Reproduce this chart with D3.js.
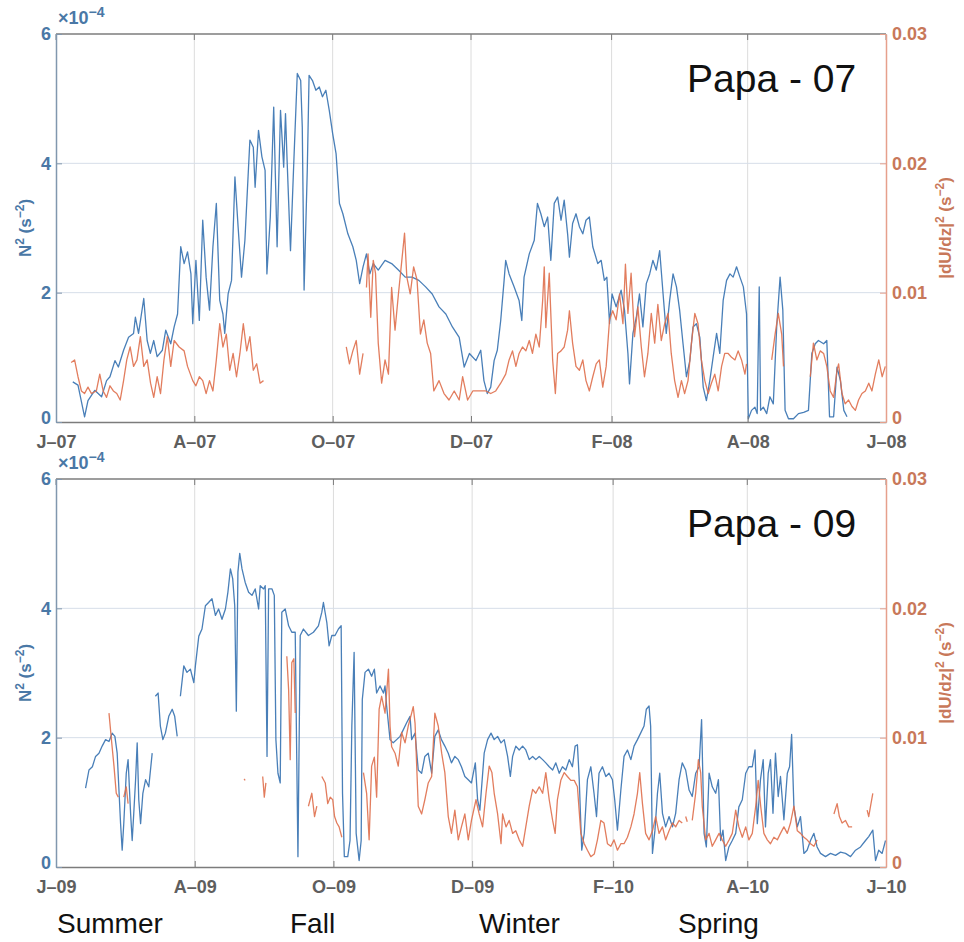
<!DOCTYPE html>
<html>
<head>
<meta charset="utf-8">
<script src="https://cdn.jsdelivr.net/npm/d3@7"></script>
<style>
  body { margin: 0; background: #fff; }
  svg { display: block; }
</style>
</head>
<body>
<svg width="964" height="942"></svg>
<script>
// days since 1 June, N2 in units of 1e-4 s^-2; null = gap
const n2_07 = [[7.4,0.62],[9.7,0.57],[12.6,0.08],[14.1,0.33],[17.1,0.49],[20.1,0.39],[22.3,0.64],[23.8,0.70],[26.0,0.95],[27.5,0.85],[29.8,1.11],[32.0,1.31],[34.2,1.37],[35.0,1.62],[36.4,1.37],[38.7,1.91],[40.2,1.26],[41.6,1.06],[43.1,1.26],[44.6,1.01],[46.9,1.11],[48.4,1.42],[50.6,1.21],[52.1,1.47],[53.6,1.67],[55.0,2.71],[56.5,2.45],[58.0,2.63],[59.5,2.29],[60.3,1.52],[61.7,2.50],[63.2,1.57],[64.7,3.12],[66.2,2.24],[67.7,1.73],[69.2,2.71],[70.7,3.38],[72.2,1.88],[73.6,1.67],[74.4,1.37],[75.9,1.98],[77.4,2.19],[78.9,3.79],[80.3,3.02],[81.8,2.24],[83.3,2.81],[85.5,4.36],[87.0,4.25],[87.8,3.63],[89.3,4.51],[90.8,4.10],[92.2,3.89],[93.0,2.29],[94.5,3.17],[96.0,4.87],[97.5,2.71],[99.0,4.82],[100.4,3.94],[101.2,4.77],[101.9,4.05],[103.4,2.65],[104.9,4.05],[106.4,5.39],[107.9,5.28],[108.6,4.56],[109.4,2.04],[110.8,3.89],[111.6,5.36],[113.1,5.28],[114.6,5.13],[116.1,5.18],[117.5,5.03],[119.0,5.13],[120.5,4.82],[122.0,4.46],[123.5,4.15],[125.0,3.38],[126.5,3.22],[128.7,2.91],[130.9,2.71],[132.4,2.50],[133.9,2.14],[135.4,2.40],[136.9,2.60],[138.4,2.29],[139.9,2.45],[142.1,2.35],[145.1,2.50],[148.0,2.45],[151.0,2.35],[154.0,2.24],[157.0,2.24],[160.0,2.19],[163.0,2.09],[165.9,1.98],[168.9,1.78],[171.9,1.67],[174.8,1.47],[177.8,1.31],[180.0,0.85],[182.3,1.06],[185.2,0.95],[187.3,1.11],[188.7,0.64],[190.2,0.44],[191.7,0.54],[193.2,0.95],[194.6,1.11],[196.1,1.57],[197.6,2.19],[198.3,2.50],[199.8,2.29],[202.0,2.09],[204.2,1.88],[205.4,1.57],[206.4,2.24],[208.7,2.60],[210.9,2.81],[212.3,3.38],[213.8,3.22],[215.3,3.02],[216.8,3.17],[218.2,2.50],[219.7,3.38],[221.2,3.48],[222.7,3.12],[224.1,3.43],[225.6,2.91],[226.4,2.55],[227.8,3.07],[229.3,3.22],[230.8,3.02],[232.3,2.91],[233.7,3.12],[235.2,3.17],[236.7,2.71],[238.9,2.45],[240.4,2.50],[241.8,2.19],[242.9,2.24],[244.1,1.52],[245.2,1.98],[247.0,1.78],[249.2,2.04],[250.7,1.73],[252.2,1.06],[252.9,0.59],[254.4,1.37],[255.9,1.62],[257.3,1.98],[258.8,1.47],[260.3,2.14],[261.8,2.29],[263.2,2.50],[264.7,2.35],[266.2,2.65],[267.7,1.98],[269.1,1.37],[270.6,1.88],[272.1,2.29],[273.6,2.09],[275.0,1.73],[276.5,1.21],[278.0,0.70],[279.5,0.95],[280.9,1.47],[282.4,1.52],[283.9,1.31],[285.4,0.54],[286.8,0.33],[288.3,0.64],[289.8,1.01],[291.3,1.37],[292.7,1.06],[294.2,1.88],[295.7,2.19],[297.2,2.29],[298.6,2.24],[300.1,2.40],[301.6,2.24],[303.1,2.09],[304.5,1.67],[305.3,0.05],[306.7,0.18],[308.2,0.23],[309.2,0.13],[310.1,2.09],[310.7,0.18],[311.9,0.23],[313.4,0.13],[314.8,0.39],[316.3,0.28],[317.8,1.47],[319.3,2.24],[320.5,1.73],[321.5,0.18],[323.0,0.05],[325.2,0.05],[327.4,0.13],[329.7,0.15],[331.8,0.18],[333.3,1.06],[334.8,1.21],[336.2,1.26],[338.5,1.21],[339.9,1.26],[341.1,0.08],[342.9,0.08],[344.4,0.85],[345.9,0.64],[347.4,0.18],[348.8,0.08]];

// |dU/dz|^2 in s^-2
const shear_07 = [[6.7,0.0046],[8.2,0.0048],[9.7,0.0035],[11.2,0.0024],[12.6,0.0022],[14.1,0.0027],[15.6,0.0022],[17.8,0.0024],[19.3,0.0037],[20.8,0.0024],[22.3,0.0019],[23.8,0.0028],[25.3,0.0024],[26.8,0.0022],[28.3,0.0017],[29.8,0.0032],[31.2,0.0048],[32.7,0.0058],[34.2,0.0043],[35.7,0.0048],[37.2,0.0066],[38.7,0.0043],[40.2,0.0048],[41.7,0.0030],[43.1,0.0019],[44.6,0.0035],[46.1,0.0022],[47.6,0.0048],[49.1,0.0066],[50.6,0.0043],[52.1,0.0063],[54.3,0.0058],[56.5,0.0055],[58.0,0.0043],[60.3,0.0032],[61.7,0.0028],[63.2,0.0035],[64.7,0.0032],[66.2,0.0022],[67.7,0.0032],[69.2,0.0024],[70.7,0.0048],[72.2,0.0076],[73.6,0.0058],[75.1,0.0068],[76.6,0.0040],[78.1,0.0053],[79.6,0.0035],[81.1,0.0053],[82.6,0.0076],[84.1,0.0055],[85.5,0.0066],[87.0,0.0040],[88.5,0.0045],[90.0,0.0030],[91.5,0.0032],[92,null],[128.0,0.0058],[129.4,0.0045],[130.9,0.0055],[132.4,0.0063],[133.9,0.0037],[135.4,0.0053],[136,null],[136.9,0.0104],[137.6,0.0130],[138.8,0.0081],[139.9,0.0125],[140.9,0.0115],[142.1,0.0061],[143.6,0.0030],[145.1,0.0048],[146.6,0.0037],[148.0,0.0104],[149.5,0.0071],[151.0,0.0099],[152.5,0.0125],[153.7,0.0146],[154.7,0.0112],[156.2,0.0099],[157.7,0.0120],[159.2,0.0110],[160.7,0.0068],[162.2,0.0079],[163.7,0.0061],[165.2,0.0053],[166.6,0.0024],[168.9,0.0032],[171.1,0.0022],[173.3,0.0017],[175.6,0.0024],[177.8,0.0017],[179.3,0.0035],[181.5,0.0017],[183.8,0.0024],[187.3,0.0024],[189.5,0.0024],[191.7,0.0022],[193.9,0.0024],[196.1,0.0030],[198.3,0.0037],[199.8,0.0048],[201.3,0.0055],[202.8,0.0043],[204.2,0.0053],[205.7,0.0058],[207.2,0.0055],[208.7,0.0063],[210.1,0.0053],[211.6,0.0068],[213.1,0.0058],[214.6,0.0094],[215.3,0.0120],[216.0,0.0073],[217.5,0.0115],[219.0,0.0048],[220.2,0.0022],[221.2,0.0053],[222.7,0.0055],[224.1,0.0058],[225.6,0.0071],[226.4,0.0086],[227.8,0.0061],[229.3,0.0043],[230.8,0.0040],[232.3,0.0048],[233.7,0.0032],[235.2,0.0024],[236.7,0.0035],[238.2,0.0045],[239.6,0.0048],[241.1,0.0027],[242.6,0.0043],[244.1,0.0079],[245.5,0.0086],[247.0,0.0079],[248.5,0.0099],[250.0,0.0076],[251.1,0.0122],[252.2,0.0084],[253.6,0.0115],[255.1,0.0066],[256.6,0.0089],[258.1,0.0058],[259.5,0.0035],[261.0,0.0053],[262.5,0.0084],[264.0,0.0061],[265.4,0.0091],[266.9,0.0063],[268.4,0.0076],[269.9,0.0084],[271.3,0.0053],[272.8,0.0032],[274.3,0.0019],[275.8,0.0032],[277.2,0.0022],[278.7,0.0032],[280.2,0.0061],[281.7,0.0084],[283.1,0.0076],[284.6,0.0048],[286.1,0.0032],[287.6,0.0022],[289.0,0.0030],[290.5,0.0037],[292.0,0.0024],[293.5,0.0043],[294.9,0.0053],[296.4,0.0053],[297.9,0.0050],[299.4,0.0048],[300.8,0.0055],[302.3,0.0048],[303.8,0.0037],[304.5,0.0045],[305,null],[315.6,0.0048],[317.1,0.0068],[318.5,0.0084],[320.0,0.0068],[320.8,0.0043],[321,null],[332.6,0.0035],[334.0,0.0061],[335.5,0.0048],[337.0,0.0055],[338.5,0.0053],[339.9,0.0043],[341.4,0.0024],[342.9,0.0019],[344.4,0.0040],[345.1,0.0045],[346.6,0.0022],[348.0,0.0014],[349.5,0.0017],[351.0,0.0012],[352.5,0.0009],[353.9,0.0017],[355.4,0.0022],[356.9,0.0024],[358.4,0.0030],[359.8,0.0024],[361.3,0.0037],[362.8,0.0048],[364.3,0.0035],[365.7,0.0043]];

const n2_09 = [[13.0,1.22],[14.5,1.50],[16.0,1.55],[17.4,1.71],[18.9,1.76],[20.3,1.87],[21.8,1.97],[23.3,1.94],[24.7,2.07],[25.9,2.02],[26.9,1.76],[28.4,0.67],[29.1,0.26],[29.8,0.67],[30.9,1.45],[31.7,1.66],[32.8,0.83],[33.5,0.41],[34.2,0.83],[35.0,1.35],[35.7,1.92],[36.4,1.04],[37.2,0.67],[38.2,1.14],[39.4,1.35],[40.8,1.24],[42.3,1.76],[43,null],[43.7,2.64],[44.9,2.69],[45.9,2.18],[47.0,1.97],[48.1,2.07],[49.6,2.33],[51.1,2.44],[52.2,2.33],[53.3,2.02],[54,null],[54.7,2.64],[56.2,3.11],[57.6,3.01],[59.1,3.06],[60.6,2.85],[61.3,3.11],[62.8,3.57],[64.2,3.68],[65.7,4.04],[67.1,4.09],[68.6,4.15],[70.1,3.89],[71.5,3.99],[73.0,3.83],[74.5,3.99],[75.6,4.25],[76.7,4.61],[77.7,4.46],[78.6,4.04],[79.3,2.41],[80.0,4.56],[80.8,4.85],[81.8,4.61],[83.2,4.40],[84.7,4.25],[86.2,4.20],[87.6,4.30],[89.1,3.99],[89.8,4.35],[91.3,4.30],[92.0,4.35],[92.8,1.71],[93.5,4.30],[95.0,4.30],[96.0,4.20],[96.7,1.97],[97.6,1.45],[98.6,1.30],[99.3,3.94],[100.8,3.99],[102.3,3.73],[103.7,3.63],[105.2,3.63],[106.4,0.16],[107.4,3.58],[108.8,3.68],[111.0,3.58],[113.2,3.63],[115.4,3.73],[116.9,3.94],[117.6,4.09],[119.1,3.78],[120.1,3.42],[121.3,3.58],[122.7,3.58],[124.2,3.68],[125.4,3.73],[126.0,1.14],[126.8,0.16],[128.3,0.16],[129.3,0.41],[130.1,2.18],[131.1,3.32],[132.0,0.52],[133.3,0.10],[134.2,0.41],[134.7,2.59],[135.9,3.01],[137.4,3.06],[138.8,2.95],[140.0,3.06],[141.0,2.69],[142.5,2.80],[144.0,2.69],[144.7,2.80],[145.4,2.49],[146.9,1.97],[148.3,1.92],[149.8,1.97],[151.3,2.02],[152.7,2.12],[154.2,2.23],[155.7,2.33],[156.4,1.97],[157.9,2.07],[159.3,1.50],[160.8,1.45],[162.2,1.71],[163.7,1.76],[165.2,1.45],[166.6,2.02],[168.1,2.12],[169.5,1.97],[171.0,1.87],[172.5,1.76],[173.9,1.61],[175.4,1.71],[176.9,1.66],[178.3,1.55],[179.8,1.40],[181.3,1.35],[182.7,1.30],[184.4,1.61],[185.4,1.04],[186.4,0.88],[188.3,1.76],[189.8,1.97],[191.3,2.07],[192.7,1.97],[194.2,2.02],[195.7,1.92],[197.1,1.97],[198.6,1.71],[199.8,1.40],[200.8,1.71],[202.2,1.87],[203.7,1.81],[205.2,1.87],[206.6,1.81],[208.1,1.66],[209.6,1.71],[211.0,1.66],[212.5,1.71],[214.0,1.66],[215.4,1.61],[216.9,1.55],[218.4,1.50],[219.8,1.61],[221.3,1.45],[222.7,1.55],[224.2,1.50],[225.7,1.66],[227.1,1.55],[228.3,1.87],[229.3,1.89],[230.1,1.35],[231.2,0.26],[232.3,0.52],[233.7,1.35],[235.2,1.55],[236.6,1.14],[237.7,0.78],[238.8,1.45],[240.3,1.55],[241.8,1.40],[243.2,1.45],[244.7,1.35],[245.7,1.04],[246.9,0.57],[248.4,1.19],[249.8,1.71],[251.3,1.81],[252.8,1.66],[254.2,1.87],[255.7,1.97],[257.1,2.07],[258.6,2.18],[259.6,2.44],[260.8,2.49],[261.5,2.18],[262.3,0.21],[263.4,0.57],[264.5,1.14],[265.5,1.45],[266.7,0.83],[268.1,0.62],[269.6,0.78],[271.1,0.62],[272.5,0.83],[274.0,1.35],[275.4,1.61],[276.9,1.50],[278.4,1.19],[279.8,1.09],[281.3,1.45],[282.8,1.55],[283.9,2.28],[285.0,0.52],[286.0,0.31],[287.2,1.45],[288.6,1.24],[290.1,1.14],[291.3,1.35],[292.3,0.41],[293.3,0.57],[294.5,0.10],[295.9,0.31],[297.4,0.41],[298.9,0.52],[300.3,0.93],[301.8,1.04],[303.3,1.45],[304.7,1.55],[306.2,1.55],[307.4,1.81],[308.4,0.67],[309.8,1.35],[311.0,1.66],[312.0,0.62],[313.2,1.45],[314.2,1.66],[315.3,0.83],[316.4,1.76],[317.6,1.09],[318.6,1.40],[320.1,0.73],[321.6,1.45],[322.6,1.55],[323.5,2.05],[324.5,0.93],[326.0,0.62],[327.4,0.78],[328.9,0.21],[330.3,0.26],[331.8,0.41],[333.3,0.52],[334.7,0.31],[336.2,0.21],[338.4,0.16],[340.6,0.21],[342.8,0.18],[345.0,0.23],[347.2,0.21],[349.4,0.16],[351.6,0.26],[353.8,0.31],[356.0,0.41],[357.4,0.47],[359.2,0.57],[360.4,0.10],[361.8,0.26],[363.3,0.21],[364.8,0.41]];

const shear_09 = [[23.3,0.0119],[24.4,0.0098],[25.5,0.0078],[26.5,0.0057],[27.4,0.0054],[28,null],[29.8,0.0054],[30.9,0.0062],[31.7,0.0049],[32,null],[82.7,0.0068],[83.2,0.0067],[84,null],[90.9,0.0070],[91.6,0.0054],[92.3,0.0065],[93,null],[101.5,0.0163],[102.3,0.0137],[103.0,0.0083],[103.7,0.0158],[104.6,0.0161],[105.2,0.0119],[106,null],[111.0,0.0047],[112.5,0.0057],[113.7,0.0039],[114.7,0.0047],[115,null],[116.9,0.0070],[118.4,0.0065],[119.5,0.0049],[120.6,0.0054],[121.7,0.0052],[122.5,0.0039],[123.5,0.0034],[124.5,0.0031],[125.7,0.0023],[126,null],[135.2,0.0073],[136.6,0.0057],[137.7,0.0021],[138.8,0.0078],[140.0,0.0085],[141.0,0.0054],[142.1,0.0122],[143.2,0.0132],[144.7,0.0119],[146.2,0.0153],[146.9,0.0109],[147.6,0.0093],[149.1,0.0088],[150.5,0.0078],[152.0,0.0104],[153.5,0.0096],[154.9,0.0109],[156.4,0.0119],[157.1,0.0124],[157.9,0.0111],[159.3,0.0047],[160.8,0.0041],[162.2,0.0052],[163.7,0.0065],[165.2,0.0070],[166.6,0.0119],[168.1,0.0109],[169.6,0.0088],[171.0,0.0073],[172.5,0.0039],[173.9,0.0026],[175.4,0.0044],[176.9,0.0021],[178.3,0.0031],[179.8,0.0041],[181.3,0.0021],[182.7,0.0036],[184.7,0.0052],[186.1,0.0041],[187.6,0.0031],[189.1,0.0057],[190.5,0.0078],[191.7,0.0073],[192.7,0.0057],[194.2,0.0041],[195.7,0.0018],[196.4,0.0041],[197.9,0.0031],[199.3,0.0036],[200.8,0.0026],[202.2,0.0028],[203.7,0.0021],[205.2,0.0016],[206.6,0.0031],[208.1,0.0047],[209.6,0.0060],[211.0,0.0057],[212.5,0.0062],[214.0,0.0057],[215.4,0.0073],[216.9,0.0052],[218.4,0.0036],[219.5,0.0026],[220.5,0.0052],[222.0,0.0067],[223.5,0.0073],[224.9,0.0070],[226.4,0.0067],[227.9,0.0067],[229.3,0.0062],[230.8,0.0026],[232.3,0.0018],[233.7,0.0013],[235.2,0.0008],[236.7,0.0010],[238.1,0.0021],[239.6,0.0036],[241.0,0.0034],[242.5,0.0018],[244.0,0.0016],[245.4,0.0021],[246.9,0.0013],[248.4,0.0018],[249.8,0.0018],[251.3,0.0023],[252.8,0.0031],[254.2,0.0041],[255.7,0.0057],[256.7,0.0073],[257.9,0.0049],[259.3,0.0026],[260.8,0.0021],[262.3,0.0028],[263.7,0.0039],[265.2,0.0026],[266.7,0.0031],[268.1,0.0021],[269.6,0.0028],[271.1,0.0034],[272.5,0.0031],[274.0,0.0036],[275.4,0.0034],[276,null],[276.9,0.0039],[277.6,0.0035],[278,null],[279.8,0.0036],[281.3,0.0057],[282.5,0.0083],[283.5,0.0073],[284.2,0.0047],[285.7,0.0021],[287.2,0.0026],[288.6,0.0016],[290.1,0.0021],[291.6,0.0026],[293.0,0.0021],[294.5,0.0016],[296.0,0.0021],[297.4,0.0026],[298.9,0.0044],[300.3,0.0031],[301.8,0.0023],[303.3,0.0031],[304.7,0.0021],[306.2,0.0026],[307.7,0.0047],[308.8,0.0067],[309.9,0.0047],[311.3,0.0026],[312.8,0.0021],[314.2,0.0018],[315.7,0.0023],[317.2,0.0021],[318.6,0.0026],[320.1,0.0031],[321.6,0.0026],[323.0,0.0034],[324.5,0.0047],[326.0,0.0028],[327.4,0.0026],[328.9,0.0023],[330.3,0.0021],[331.8,0.0018],[333.3,0.0016],[334.7,0.0021],[335,null],[342.1,0.0041],[343.5,0.0049],[344.5,0.0039],[345.7,0.0034],[347.2,0.0036],[348.6,0.0031],[350.1,0.0031],[351,null],[356.7,0.0044],[357.4,0.0039],[358.2,0.0047],[359.2,0.0057]];

const n2Ticks = [0, 2, 4, 6];
const shearTicks = [0, 0.01, 0.02, 0.03];
const titles = ["Papa - 07", "Papa - 09"];
const startYears = [2007, 2009];
const seasons = ["Summer", "Fall", "Winter", "Spring"];
const seasonX = [57, 290, 479, 678];

const svg = d3.select("svg");
const blue = "#3f78b4", red = "#df6f4d";
const blueText = "#4a78a6", redText = "#c8785a";
const fontFam = "'Liberation Sans', Arial, sans-serif";

const panels = [
  { n2: n2_07, shear: shear_07, year: startYears[0], title: titles[0], top: 34, bottom: 422, titleY: 92 },
  { n2: n2_09, shear: shear_09, year: startYears[1], title: titles[1], top: 479, bottom: 867, titleY: 537 }
];
const left = 56, right = 886;
const monthLetter = "JFMAMJJASOND";

panels.forEach(p => {
  const start = new Date(Date.UTC(p.year, 5, 1));
  const end = new Date(Date.UTC(p.year + 1, 5, 1));
  const toDate = d => new Date(+start + d * 86400000);

  const x = d3.scaleUtc().domain([start, end]).range([left, right]);
  const yL = d3.scaleLinear().domain([0, 6]).range([p.bottom, p.top]);
  const yR = d3.scaleLinear().domain([0, 0.03]).range([p.bottom, p.top]);
  // every second month starting at June
  const xTicks = d3.utcMonth.range(start, new Date(+end + 1), 2);

  const g = svg.append("g");

  // grid
  g.append("g").selectAll("line").data(xTicks.slice(1, -1)).join("line")
    .attr("x1", d => x(d)).attr("x2", d => x(d))
    .attr("y1", p.top).attr("y2", p.bottom)
    .attr("stroke", "#dcdcdc").attr("stroke-width", 1);
  g.append("g").selectAll("line").data(n2Ticks.slice(1, -1)).join("line")
    .attr("x1", left).attr("x2", right)
    .attr("y1", d => yL(d)).attr("y2", d => yL(d))
    .attr("stroke", "#d6dee9").attr("stroke-width", 1);

  // series
  const lineN2 = d3.line().defined(d => d[1] != null)
    .x(d => x(toDate(d[0]))).y(d => yL(d[1]));
  const lineSh = d3.line().defined(d => d[1] != null)
    .x(d => x(toDate(d[0]))).y(d => yR(d[1]));

  g.append("path").datum(p.n2).attr("d", lineN2)
    .attr("fill", "none").attr("stroke", blue).attr("stroke-width", 1.3)
    .attr("stroke-linejoin", "round").attr("opacity", 0.95);
  g.append("path").datum(p.shear).attr("d", lineSh)
    .attr("fill", "none").attr("stroke", red).attr("stroke-width", 1.3)
    .attr("stroke-linejoin", "round").attr("opacity", 0.9);

  // box
  g.append("line").attr("x1", left).attr("x2", right).attr("y1", p.top).attr("y2", p.top)
    .attr("stroke", "#7c7c7c").attr("stroke-width", 1.5);

  // bottom axis
  const xAxis = d3.axisBottom(x).tickValues(xTicks).tickSizeInner(-6).tickSizeOuter(0)
    .tickPadding(13)
    .tickFormat(d => monthLetter[d.getUTCMonth()] + "\u2013" + String(d.getUTCFullYear()).slice(2));
  const ax = g.append("g").attr("transform", `translate(0,${p.bottom})`).call(xAxis);
  ax.select(".domain").attr("stroke", "#7c7c7c").attr("stroke-width", 1.5);
  ax.selectAll(".tick line").attr("stroke", "#7c7c7c");
  ax.selectAll("text").attr("fill", "#5e5e5e").style("font-family", fontFam)
    .style("font-size", "18px").style("font-weight", "bold");
  // top ticks
  g.append("g").selectAll("line").data(xTicks).join("line")
    .attr("x1", d => x(d)).attr("x2", d => x(d))
    .attr("y1", p.top).attr("y2", p.top + 6).attr("stroke", "#7c7c7c");

  // left axis
  const la = g.append("g").attr("transform", `translate(${left},0)`)
    .call(d3.axisLeft(yL).tickValues(n2Ticks).tickSizeInner(-6).tickSizeOuter(0).tickPadding(5).tickFormat(d3.format("d")));
  la.select(".domain").attr("stroke", "#8197ae").attr("stroke-width", 1.5);
  la.selectAll(".tick line").attr("stroke", "#8197ae");
  la.selectAll("text").attr("fill", blueText).style("font-family", fontFam)
    .style("font-size", "18px").style("font-weight", "bold");
  la.selectAll(".tick").filter(d => d === 0).select("text").attr("dy", "0.1em");

  // right axis
  const ra = g.append("g").attr("transform", `translate(${right},0)`)
    .call(d3.axisRight(yR).tickValues(shearTicks).tickSizeInner(-6).tickSizeOuter(0).tickPadding(6)
      .tickFormat(d => d === 0 ? "0" : d3.format(".2f")(d)));
  ra.select(".domain").attr("stroke", "#e6a08c").attr("stroke-width", 1.5);
  ra.selectAll(".tick line").attr("stroke", "#e6a08c");
  ra.selectAll("text").attr("fill", redText).style("font-family", fontFam)
    .style("font-size", "18px").style("font-weight", "bold");
  ra.selectAll(".tick").filter(d => d === 0).select("text").attr("dy", "0.1em");

  // exponent
  const ex = g.append("text").attr("x", left + 2).attr("y", p.top - 10)
    .attr("fill", blueText).style("font-family", fontFam).style("font-size", "18px").style("font-weight", "bold");
  ex.append("tspan").text("\u00d710");
  ex.append("tspan").attr("dy", -7).style("font-size", "14px").text("\u22124");

  // axis labels
  const mid = (p.top + p.bottom) / 2;
  const lab = g.append("text").attr("transform", `translate(31,${mid}) rotate(-90)`)
    .attr("text-anchor", "middle").attr("fill", blueText)
    .style("font-family", fontFam).style("font-size", "17px").style("font-weight", "bold");
  lab.append("tspan").text("N");
  lab.append("tspan").attr("dy", -7).style("font-size", "12px").text("2");
  lab.append("tspan").attr("dy", 7).text(" (s");
  lab.append("tspan").attr("dy", -7).style("font-size", "12px").text("\u22122");
  lab.append("tspan").attr("dy", 7).text(")");

  const rab = g.append("text").attr("transform", `translate(951,${mid}) rotate(-90)`)
    .attr("text-anchor", "middle").attr("fill", redText)
    .style("font-family", fontFam).style("font-size", "17px").style("font-weight", "bold");
  rab.append("tspan").text("|dU/dz|");
  rab.append("tspan").attr("dy", -7).style("font-size", "12px").text("2");
  rab.append("tspan").attr("dy", 7).text(" (s");
  rab.append("tspan").attr("dy", -7).style("font-size", "12px").text("\u22122");
  rab.append("tspan").attr("dy", 7).text(")");

  // title
  g.append("text").attr("x", 687).attr("y", p.titleY).text(p.title)
    .attr("fill", "#111").style("font-family", fontFam).style("font-size", "39px");
});

svg.append("g").selectAll("text").data(seasons).join("text")
  .attr("x", (d, i) => seasonX[i]).attr("y", 933).text(d => d)
  .attr("fill", "#111").style("font-family", fontFam).style("font-size", "28px");
</script>
</body>
</html>
